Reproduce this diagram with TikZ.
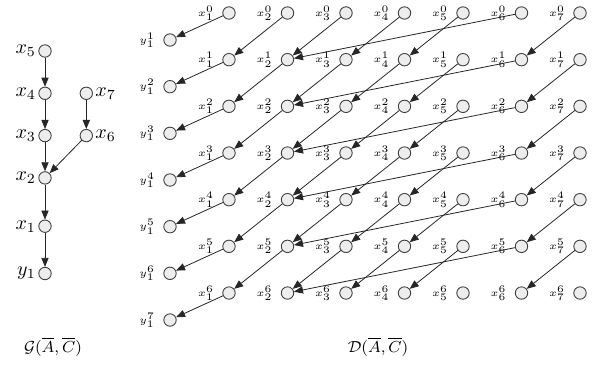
\documentclass[tikz,border=0pt]{standalone}
\usepackage{amsmath}
\usetikzlibrary{arrows.meta,positioning}

\begin{document}
\begin{tikzpicture}[
  x=0.5pt, y=-0.5pt,
  node distance=14.5pt and 14pt,
  var/.style={circle, draw=black!75, fill=black!7, minimum size=6.2pt, inner sep=0pt, line width=0.45pt},
  glab/.style={font=\normalsize, inner sep=1pt},
  dlab/.style={font=\tiny, inner sep=0.5pt, label distance=3.5pt},
  dep/.style={-{Triangle[length=4.5pt,width=3.6pt]}, draw=black!85, line width=0.4pt}
]
\useasboundingbox (0,0) rectangle (602,365);

% causal graph G
\node[var, label={[glab]left:$x_5$}] (x5) at (45,51) {};
\node[var, below=of x5, label={[glab]left:$x_4$}] (x4) {};
\node[var, below=of x4, label={[glab]left:$x_3$}] (x3) {};
\node[var, below=of x3, label={[glab]left:$x_2$}] (x2) {};
\node[var, below=17.5pt of x2, label={[glab]left:$x_1$}] (x1) {};
\node[var, below=17pt of x1, label={[glab]left:$y_1$}] (y1) {};
\node[var, right=of x4, label={[glab]right:$x_7$}] (x7) {};
\node[var, below=of x7, label={[glab]right:$x_6$}] (x6) {};

\draw[dep] (x5) -- (x4);
\draw[dep] (x4) -- (x3);
\draw[dep] (x3) -- (x2);
\draw[dep] (x2) -- (x1);
\draw[dep] (x1) -- (y1);
\draw[dep] (x7) -- (x6);
\draw[dep] (x6) -- (x2);

% unrolled graph D
\foreach \k in {0,...,6} {
  \foreach \j in {1,...,7} {
    \node[var, label={[dlab]left:$x_{\j}^{\k}$}] (d\j-\k) at ({229+58.5*(\j-1)}, {13+46.67*\k}) {};
  }
}
\foreach \k in {1,...,7}
  \node[var, label={[dlab]left:$y_1^{\k}$}] (dy-\k) at (170, {13+46.67*(\k-1)+27}) {};

\foreach \k [evaluate=\k as \n using int(\k+1)] in {0,...,5} {
  \foreach \s/\t in {2/1, 3/2, 4/3, 5/4, 6/2, 7/6}
    \draw[dep] (d\s-\k) -- (d\t-\n);
}
\foreach \k [evaluate=\k as \n using int(\k+1)] in {0,...,6}
  \draw[dep] (d1-\k) -- (dy-\n);

% captions
\node[font=\footnotesize] (gcap) at (53,347) {$\mathcal{G}(\overline{A},\overline{C})$};
\node[font=\footnotesize] (dcap) at (378,347) {$\mathcal{D}(\overline{A},\overline{C})$};
\end{tikzpicture}
\end{document}
